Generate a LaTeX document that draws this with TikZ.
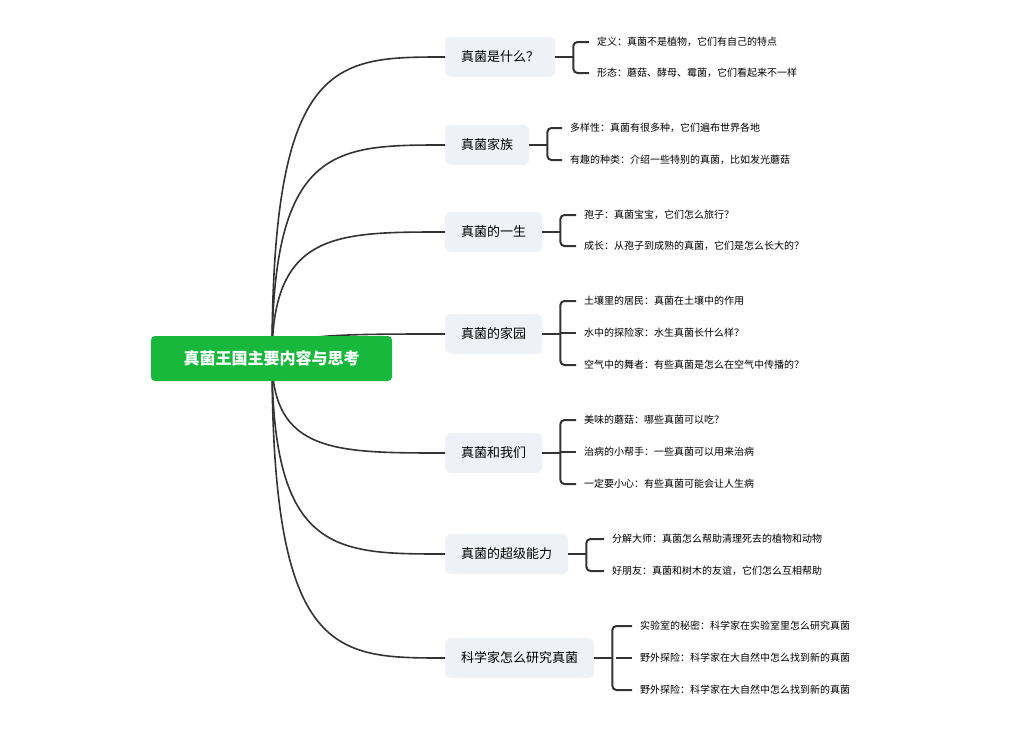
\documentclass[tikz,border=0pt]{standalone}
\usepackage{fontspec}
\setmainfont{Noto Sans CJK SC}
\definecolor{rootgreen}{HTML}{17B83C}
\definecolor{branchgray}{HTML}{EEF1F5}
\definecolor{linegray}{HTML}{333333}
\tikzset{
  rootbox/.style={fill=rootgreen, rounded corners=4pt, text=white, font=\fontsize{16}{18}\selectfont\bfseries, minimum width=241pt, minimum height=45pt, inner sep=0pt},
  branchbox/.style={fill=branchgray, rounded corners=6pt, font=\fontsize{13}{15}\selectfont, minimum height=40pt, inner xsep=16pt, anchor=west},
  leaftext/.style={font=\fontsize{10}{12}\selectfont, anchor=west, inner sep=0pt},
  link/.style={draw=linegray, line width=1.6pt},
  bracket/.style={draw=linegray, line width=2pt, rounded corners=4pt}
}
\begin{document}
\begin{tikzpicture}[x=1pt,y=-1pt]
\useasboundingbox (0,0) rectangle (1028,736);
\coordinate (hub) at (272,358);

% branch nodes
\node[branchbox] (b1) at (445,57) {真菌是什么？};
\node[branchbox] (b2) at (445,145) {真菌家族};
\node[branchbox] (b3) at (445,232) {真菌的一生};
\node[branchbox] (b4) at (445,334) {真菌的家园};
\node[branchbox] (b5) at (445,453) {真菌和我们};
\node[branchbox] (b6) at (445,554) {真菌的超级能力};
\node[branchbox] (b7) at (445,658) {科学家怎么研究真菌};

% curves from the root
\foreach \b in {b1,b2,b3,b4,b5,b6,b7}
  \draw[link] (hub) .. controls (hub |- \b.west) and ([xshift=-110pt]\b.west) .. (\b.west);

% root node (on top of the curves)
\node[rootbox] (root) at (271.5,358.5) {真菌王国主要内容与思考};

% leaf texts
\node[leaftext] (l11) at (597,42) {定义：真菌不是植物，它们有自己的特点};
\node[leaftext] (l12) at (597,73) {形态：蘑菇、酵母、霉菌，它们看起来不一样};
\node[leaftext] (l21) at (570,128) {多样性：真菌有很多种，它们遍布世界各地};
\node[leaftext] (l22) at (570,160) {有趣的种类：介绍一些特别的真菌，比如发光蘑菇};
\node[leaftext] (l31) at (584,215) {孢子：真菌宝宝，它们怎么旅行？};
\node[leaftext] (l32) at (584,246) {成长：从孢子到成熟的真菌，它们是怎么长大的？};
\node[leaftext] (l41) at (584,301) {土壤里的居民：真菌在土壤中的作用};
\node[leaftext] (l42) at (584,333) {水中的探险家：水生真菌长什么样？};
\node[leaftext] (l43) at (584,365) {空气中的舞者：有些真菌是怎么在空气中传播的？};
\node[leaftext] (l51) at (584,420) {美味的蘑菇：哪些真菌可以吃？};
\node[leaftext] (l52) at (584,452) {治病的小帮手：一些真菌可以用来治病};
\node[leaftext] (l53) at (584,484) {一定要小心：有些真菌可能会让人生病};
\node[leaftext] (l61) at (612,539) {分解大师：真菌怎么帮助清理死去的植物和动物};
\node[leaftext] (l62) at (612,571) {好朋友：真菌和树木的友谊，它们怎么互相帮助};
\node[leaftext] (l71) at (640,626) {实验室的秘密：科学家在实验室里怎么研究真菌};
\node[leaftext] (l72) at (640,658) {野外探险：科学家在大自然中怎么找到新的真菌};
\node[leaftext] (l73) at (640,690) {野外探险：科学家在大自然中怎么找到新的真菌};

% brackets
\foreach \b/\top/\bot in {b1/l11/l12, b2/l21/l22, b3/l31/l32, b4/l41/l43, b5/l51/l53, b6/l61/l62, b7/l71/l73} {
  \draw[bracket] (\b.east) -- ([xshift=18pt]\b.east);
  \draw[bracket] ([xshift=-8pt]\top.west) -| ([xshift=18pt]\b.east) |- ([xshift=-8pt]\bot.west);
}
\foreach \m in {l42,l52,l72}
  \draw[bracket] ([xshift=-24pt]\m.west) -- ([xshift=-8pt]\m.west);
\end{tikzpicture}
\end{document}
